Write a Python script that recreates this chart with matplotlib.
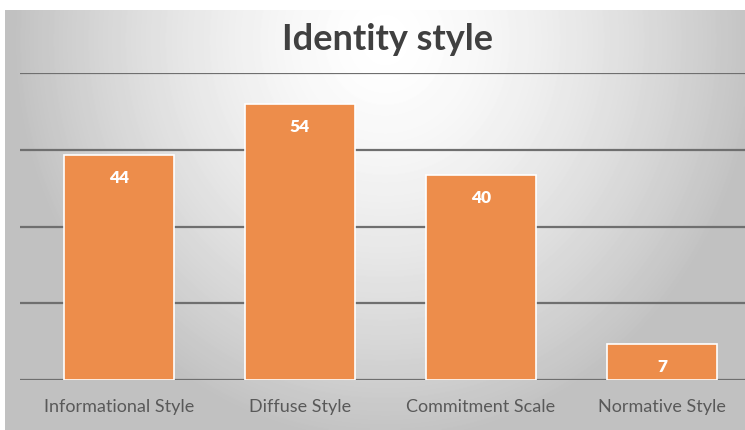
import numpy as np
import matplotlib.pyplot as plt

categories = ['Informational Style', 'Diffuse Style', 'Commitment Scale', 'Normative Style']
values = [44, 54, 40, 7]

plt.rcParams['font.family'] = ['Lato', 'DejaVu Sans']

fig = plt.figure(figsize=(7.45, 4.3), dpi=100)
fig.patch.set_facecolor('white')

# gradient background of the chart area
bg = fig.add_axes([5 / 745, 0, 740 / 745, 420 / 430])
bg.set_axis_off()
yy, xx = np.mgrid[0:420, 0:740]
r = np.sqrt(((xx - 380) / 370.0) ** 2 + ((yy - 30) / 400.0) ** 2)
shade = np.clip(1.0 - 0.24 * r ** 1.5, 0.76, 1.0)
bg.imshow(shade, cmap='gray', vmin=0, vmax=1, aspect='auto', interpolation='bilinear')

ax = fig.add_axes([20 / 745, 50 / 430, 725 / 745, 307 / 430])
ax.patch.set_alpha(0)
x = np.arange(len(categories))
bars = ax.bar(x, values, width=0.61, color='#ED8D4B', edgecolor='white', linewidth=1.2, zorder=3)

ax.set_xlim(-0.547, 3.459)
ax.set_ylim(0, 60)
ax.set_yticks([0, 15, 30, 45, 60])
ax.yaxis.grid(True, color='#6f6f6f', linewidth=1.6, zorder=1)
ax.set_axisbelow(True)
ax.tick_params(axis='y', left=False, labelleft=False)
ax.tick_params(axis='x', bottom=False, labelsize=13, labelcolor='#595959', pad=10)
ax.set_xticks(x)
ax.set_xticklabels(categories)
for s in ax.spines.values():
    s.set_visible(False)

for b, v in zip(bars, values):
    ax.text(b.get_x() + b.get_width() / 2, v - 4.5, str(v), ha='center', va='center',
            color='white', fontsize=12.5, fontweight='heavy', zorder=4)

fig.text(387 / 745, 1 - 40 / 430, 'Identity style', ha='center', va='center',
         fontsize=26, fontweight='bold', color='#404040')

fig.savefig('out.png', dpi=100)
